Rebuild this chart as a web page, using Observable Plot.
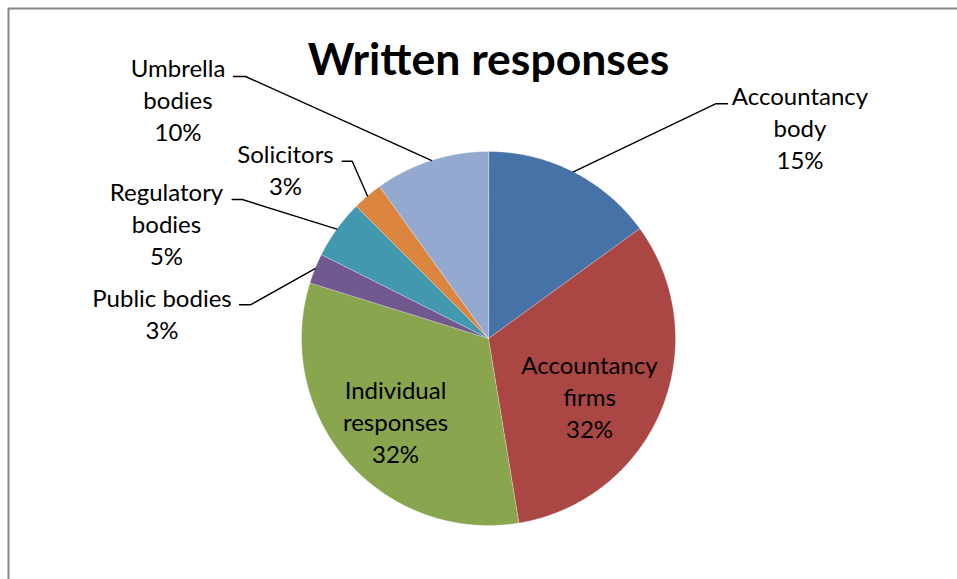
<!DOCTYPE html>
<html>
<head>
<meta charset="utf-8">
<script src="https://cdn.jsdelivr.net/npm/d3@7"></script>
<script src="https://cdn.jsdelivr.net/npm/@observablehq/plot@0.6"></script>
<style>
  html, body { margin: 0; padding: 0; background: #fff; }
  #chart svg { display: block; }
</style>
</head>
<body>
<div id="chart"></div>
<script>
// ---- data ----
const title = "Written responses";
const categories = ["Accountancy body", "Accountancy firms", "Individual responses", "Public bodies", "Regulatory bodies", "Solicitors", "Umbrella bodies"];
const shares = [15.0, 32.4, 32.4, 2.6, 5.1, 2.6, 9.9];
const labelLines = [["Accountancy", "body"], ["Accountancy", "firms"], ["Individual", "responses"], ["Public bodies"], ["Regulatory", "bodies"], ["Solicitors"], ["Umbrella", "bodies"]];
const colors = ["#4572A7", "#AA4643", "#89A54E", "#71588F", "#4198AF", "#DB843D", "#93A9CF"];

// ---- layout (pixels) ----
const W = 957, H = 579, mL = 8, mT = 8;
const cx = 488, cy = 338, R = 187;
const titleBaseline = 74;
const fontFamily = "Lato, 'Open Sans', sans-serif";
const labelSize = 24, lineGap = 32;
// last-line baseline of each label and leader elbow/end points
const labelLayout = [
  {tx: 799.5, ty: 168, leader: [[715, 103.3], [727, 103.3]]},
  {tx: 589, ty: 437},
  {tx: 395, ty: 462},
  {tx: 161.5, ty: 338, leader: [[250, 304.3], [239, 304.3]]},
  {tx: 166, ty: 264, leader: [[241.7, 199], [231.7, 199]]},
  {tx: 285, ty: 194, leader: [[351.7, 160.7], [341.7, 160.7]]},
  {tx: 177.5, ty: 140, leader: [[245, 76], [233, 76]]}
];

const ux = (px) => (px - cx) / R;
const uy = (py) => (cy - py) / R;

// ---- geometry from data ----
const arcs = d3.pie().sort(null).value(d => d)(shares);
const slicePts = [];
arcs.forEach((p, i) => {
  const cat = categories[i];
  slicePts.push({cat, x: 0, y: 0});
  const n = Math.max(2, Math.ceil((p.endAngle - p.startAngle) / (Math.PI / 360)));
  for (let k = 0; k <= n; k++) {
    const a = p.startAngle + (p.endAngle - p.startAngle) * k / n;
    slicePts.push({cat, x: Math.sin(a), y: Math.cos(a)});
  }
});

const labels = categories.map((cat, i) => ({
  cat,
  text: [...labelLines[i], Math.round(shares[i]) + "%"].join("\n"),
  x: ux(labelLayout[i].tx),
  y: uy(labelLayout[i].ty)
}));

const leaderPts = [];
arcs.forEach((p, i) => {
  const L = labelLayout[i].leader;
  if (!L) return;
  const mid = (p.startAngle + p.endAngle) / 2;
  const cat = categories[i];
  leaderPts.push({cat, x: Math.sin(mid), y: Math.cos(mid)});
  L.forEach(([px, py]) => leaderPts.push({cat, x: ux(px), y: uy(py)}));
});

const xDomain = [ux(mL), ux(W)];
const yDomain = [uy(H), uy(mT)];

const chart = Plot.plot({
  width: W,
  height: H,
  marginLeft: mL, marginTop: mT, marginRight: 0, marginBottom: 0,
  style: {fontFamily, background: "#fff", overflow: "visible"},
  x: {domain: xDomain, axis: null},
  y: {domain: yDomain, axis: null},
  color: {domain: categories, range: colors},
  marks: [
    Plot.ruleX([xDomain[0]], {stroke: "#878787", strokeWidth: 2}),
    Plot.ruleY([yDomain[1]], {stroke: "#878787", strokeWidth: 2}),
    Plot.line(slicePts, {x: "x", y: "y", z: "cat", fill: "cat", stroke: "#ffffff", strokeWidth: 0.5, strokeOpacity: 0.6, curve: "linear-closed"}),
    Plot.line(leaderPts, {x: "x", y: "y", z: "cat", stroke: "#000", strokeWidth: 1.4}),
    Plot.text(labels, {x: "x", y: "y", text: "text", textAnchor: "middle", lineAnchor: "bottom", lineHeight: lineGap / labelSize, fontSize: labelSize, fill: "#000"}),
    Plot.text([title], {x: [0], y: [uy(titleBaseline)], text: d => d, textAnchor: "middle", lineAnchor: "bottom", fontSize: 44.5, fontWeight: "bold", fill: "#000"})
  ]
});
document.getElementById("chart").appendChild(chart);
</script>
</body>
</html>
